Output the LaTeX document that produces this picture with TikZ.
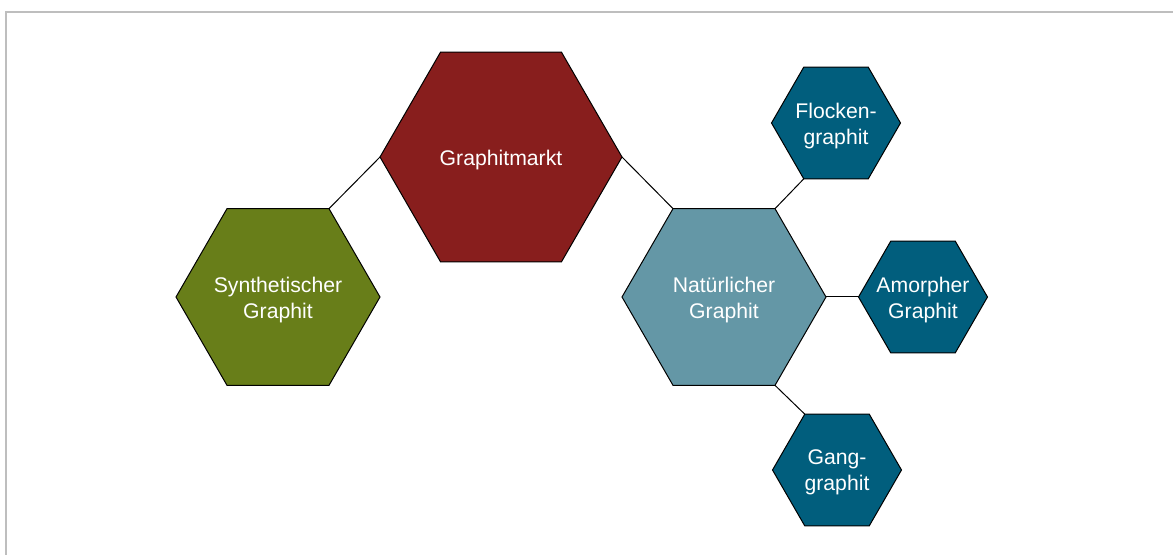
\documentclass[tikz,border=0pt]{standalone}
\usepackage{fontspec}
\setmainfont{Liberation Sans}
\usetikzlibrary{shapes.geometric}

\definecolor{marktred}{RGB}{136,30,29}
\definecolor{synthgreen}{RGB}{104,126,25}
\definecolor{naturteal}{RGB}{100,151,166}
\definecolor{typeblue}{RGB}{1,94,125}
\definecolor{framegray}{RGB}{190,190,190}

\begin{document}
\begin{tikzpicture}
            [x=0.5pt, y=-0.5pt,
            hextext/.style={
                align=center,
                text=white,
                inner sep=0pt,
                yshift=-1.3pt,
                font=\fontsize{10.6}{13}\selectfont
            },
            hex/.style={
                regular polygon,
                regular polygon sides=6,
                draw=black,
                line width=0.5pt,
                inner sep=0pt,
                outer sep=0pt,
                label={[hextext]center:#1}
            },
            line/.style={
                draw, line width=0.5pt
            },
            bighex/.style={hex={#1}, fill=marktred, minimum size=121pt},
            greenhex/.style={hex={#1}, fill=synthgreen, minimum size=102pt},
            tealhex/.style={hex={#1}, fill=naturteal, minimum size=102pt},
            bluehex/.style={hex={#1}, fill=typeblue, minimum size=64.5pt}
            ]

            \useasboundingbox (0,0) rectangle (1173,555);
            \draw [framegray, line width=0.8pt] (6,555) -- (6,12) -- (1173,12);

            % Main hexagons
            \node[bighex={Graphitmarkt}] (markt) at (501,157) {};
            \node[greenhex={Synthetischer\\Graphit}] (synth) at (278,297) {};
            \node[tealhex={Natürlicher\\Graphit}] (natur) at (724,297) {};

            % Types of natural graphite
            \node[bluehex={Flocken-\\graphit}] (flocken) at (836,123) {};
            \node[bluehex={Amorpher\\Graphit}] (amorph) at (923,297) {};
            \node[bluehex={Gang-\\graphit}] (gang) at (837,470) {};

            \path [line] (markt.corner 3) -- (synth.corner 1);
            \path [line] (markt.corner 6) -- (natur.corner 2);
            \path [line] (natur.corner 1) -- (flocken.corner 4);
            \path [line] (natur.corner 6) -- (amorph.corner 3);
            \path [line] (natur.corner 5) -- (gang.corner 2);
\end{tikzpicture}
\end{document}
